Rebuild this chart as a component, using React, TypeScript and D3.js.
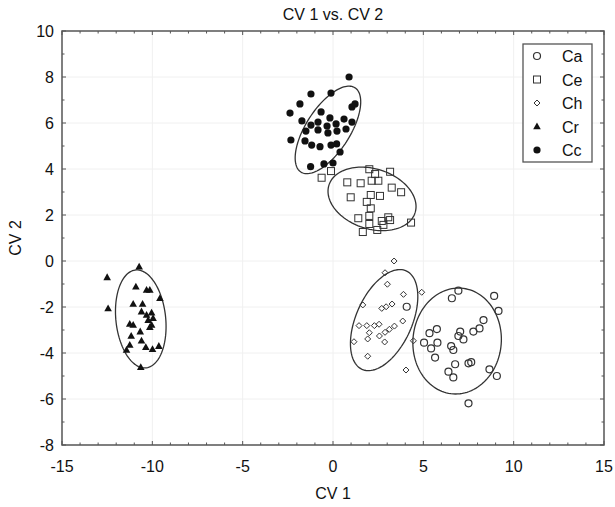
import React, { useEffect, useRef } from "react";
import * as d3 from "d3";

// group scores: [CV 1, CV 2]
const ca = [
  [6.94, -1.29], [6.58, -1.62], [8.92, -1.52], [9.16, -2.17], [8.33, -2.57],
  [8.11, -2.93], [7.77, -3.07], [5.75, -2.96], [5.34, -3.14], [7.04, -3.07],
  [6.94, -3.26], [7.22, -3.41], [5.04, -3.55], [5.78, -3.55], [5.43, -3.8],
  [6.54, -3.7], [6.66, -3.87], [5.65, -4.2], [6.76, -4.49], [7.5, -4.45],
  [6.39, -4.81], [6.66, -5.06], [8.66, -4.71], [9.07, -5.0], [7.5, -6.19],
  [4.08, -1.99], [7.65, -4.4],
];
const ce = [
  [2.01, 3.99], [2.33, 3.78], [3.16, 3.88], [2.14, 3.49], [2.51, 3.49],
  [0.79, 3.42], [1.53, 3.38], [3.25, 3.19], [3.77, 2.99], [0.98, 2.77],
  [2.09, 2.87], [2.6, 2.83], [1.87, 2.57], [2.09, 2.29], [1.4, 1.86],
  [2.01, 1.96], [3.06, 1.9], [2.7, 1.74], [3.16, 1.78], [2.01, 1.61],
  [2.79, 1.57], [1.65, 1.26], [2.45, 1.35], [4.32, 1.67], [-0.63, 3.62],
  [-0.11, 3.91],
];
const ch = [
  [3.38, 0.0], [2.88, -0.51], [3.01, -1.01], [1.65, -1.91], [3.9, -1.45],
  [4.91, -1.36], [2.7, -2.06], [2.94, -1.99], [3.27, -1.87], [1.44, -2.81],
  [1.87, -2.81], [2.29, -2.81], [2.55, -2.75], [2.01, -3.12], [1.92, -3.39],
  [2.57, -3.26], [2.88, -3.1], [3.12, -2.97], [3.4, -2.83], [3.86, -2.61],
  [2.86, -3.52], [1.16, -3.51], [1.92, -4.14], [4.04, -4.74], [4.45, -3.47],
];
const cr = [
  [-10.73, -0.25], [-12.5, -0.71], [-10.91, -1.12], [-10.32, -1.26], [-10.14, -1.26],
  [-9.58, -1.62], [-12.45, -2.06], [-11.06, -1.87], [-10.54, -1.87], [-10.6, -2.2],
  [-10.32, -2.35], [-10.04, -2.25], [-9.96, -2.49], [-10.23, -2.57], [-10.04, -2.78],
  [-10.14, -2.88], [-11.25, -2.74], [-11.06, -2.78], [-10.67, -3.07], [-11.17, -3.26],
  [-10.6, -3.47], [-11.25, -3.65], [-11.43, -3.87], [-10.36, -3.75], [-9.99, -3.84],
  [-9.64, -3.7], [-10.64, -4.62],
];
const cc = [
  [0.89, 8.0], [-1.22, 7.26], [-1.83, 6.83], [-0.11, 7.3], [1.05, 6.7],
  [1.22, 6.83], [-2.38, 6.43], [-0.66, 6.48], [-0.17, 6.22], [-1.72, 6.09],
  [-1.22, 5.91], [-0.83, 6.04], [-0.33, 5.87], [0.17, 5.96], [0.61, 6.17],
  [-1.5, 5.65], [-0.83, 5.7], [-0.28, 5.57], [0.22, 5.65], [0.72, 5.74],
  [1.05, 6.04], [-2.33, 5.26], [-1.55, 5.22], [-1.18, 5.04], [-0.72, 4.97],
  [-0.11, 5.04], [0.2, 5.09], [0.39, 4.74], [-1.24, 4.1], [-0.5, 4.22], [0.0, 4.26],
];

// confidence ellipses: centre, two conjugate half-axes (data units)
const ellipses = [
  { c: [6.87, -3.48], a: [0.22, 2.3], b: [2.44, -0.13] },
  { c: [2.16, 2.7], a: [2.38, -0.61], b: [-0.52, -1.24] },
  { c: [2.83, -2.57], a: [1.22, 2.14], b: [1.41, -0.5] },
  { c: [-10.64, -2.52], a: [-0.17, 2.13], b: [1.39, -0.07] },
  { c: [-0.28, 5.7], a: [1.5, 1.83], b: [1.02, -0.52] },
];

const groups = ["Ca", "Ce", "Ch", "Cr", "Cc"];
const groupData = [ca, ce, ch, cr, cc];
const xTicks = [-15, -10, -5, 0, 5, 10, 15];
const yTicks = [-8, -6, -4, -2, 0, 2, 4, 6, 8, 10];

const W = 615;
const H = 507;
const margin = { top: 31, right: 11, bottom: 62, left: 62 };
const ink = "#333";
const font = "Arial, 'Liberation Sans', sans-serif";

function drawMarker(g, kind, x, y) {
  if (kind === "Ca") {
    g.append("circle").attr("cx", x).attr("cy", y).attr("r", 3.5)
      .attr("fill", "none").attr("stroke", ink).attr("stroke-width", 1.2);
  } else if (kind === "Ce") {
    g.append("rect").attr("x", x - 3.5).attr("y", y - 3.5).attr("width", 7).attr("height", 7)
      .attr("fill", "none").attr("stroke", ink).attr("stroke-width", 1);
  } else if (kind === "Ch") {
    g.append("path").attr("d", `M${x},${y - 3}L${x + 3},${y}L${x},${y + 3}L${x - 3},${y}Z`)
      .attr("fill", "none").attr("stroke", ink).attr("stroke-width", 1);
  } else if (kind === "Cr") {
    g.append("path").attr("d", `M${x},${y - 4}L${x + 3.8},${y + 2.8}L${x - 3.8},${y + 2.8}Z`)
      .attr("fill", "#111");
  } else {
    g.append("circle").attr("cx", x).attr("cy", y).attr("r", 3.6).attr("fill", "#111");
  }
}

export default function App() {
  const svgRef = useRef(null);

  useEffect(() => {
    const svg = d3.select(svgRef.current);
    svg.selectAll("*").remove();

    const x = d3.scaleLinear().domain([-15, 15]).range([margin.left, W - margin.right]);
    const y = d3.scaleLinear().domain([-8, 10]).range([H - margin.bottom, margin.top]);
    const [x0, x1] = x.range();
    const [y1, y0] = y.range();

    // faint grid
    const grid = svg.append("g").attr("stroke", "#f0f0f0").attr("stroke-width", 1);
    xTicks.slice(1, -1).forEach((t) =>
      grid.append("line").attr("x1", x(t)).attr("x2", x(t)).attr("y1", y0).attr("y2", y1));
    yTicks.slice(1, -1).forEach((t) =>
      grid.append("line").attr("x1", x0).attr("x2", x1).attr("y1", y(t)).attr("y2", y(t)));

    // ticks on all four sides, pointing inward
    const ticks = svg.append("g").attr("stroke", "#555").attr("stroke-width", 1);
    d3.range(-15, 16, 1).forEach((t) => {
      const len = t % 5 === 0 ? 4 : 2.5;
      ticks.append("line").attr("x1", x(t)).attr("x2", x(t)).attr("y1", y1).attr("y2", y1 - len);
      ticks.append("line").attr("x1", x(t)).attr("x2", x(t)).attr("y1", y0).attr("y2", y0 + len);
    });
    d3.range(-8, 11, 1).forEach((t) => {
      const len = t % 2 === 0 ? 4 : 2.5;
      ticks.append("line").attr("x1", x0).attr("x2", x0 + len).attr("y1", y(t)).attr("y2", y(t));
      ticks.append("line").attr("x1", x1).attr("x2", x1 - len).attr("y1", y(t)).attr("y2", y(t));
    });

    svg.append("rect").attr("x", x0).attr("y", y0).attr("width", x1 - x0).attr("height", y1 - y0)
      .attr("fill", "none").attr("stroke", "#555").attr("stroke-width", 1.5);

    // tick labels
    const lab = svg.append("g").attr("font-family", font).attr("font-size", 16).attr("fill", "#111");
    xTicks.forEach((t) =>
      lab.append("text").attr("x", x(t)).attr("y", y1 + 27).attr("text-anchor", "middle").text(t));
    yTicks.forEach((t) =>
      lab.append("text").attr("x", x0 - 8).attr("y", y(t) + 5.5).attr("text-anchor", "end").text(t));

    svg.append("text").attr("x", (x0 + x1) / 2).attr("y", 20).attr("text-anchor", "middle")
      .attr("font-family", font).attr("font-size", 16).attr("fill", "#111").text("CV 1 vs. CV 2");
    svg.append("text").attr("x", (x0 + x1) / 2).attr("y", 499).attr("text-anchor", "middle")
      .attr("font-family", font).attr("font-size", 16).attr("fill", "#111").text("CV 1");
    svg.append("text").attr("transform", `translate(21,${(y0 + y1) / 2}) rotate(-90)`)
      .attr("text-anchor", "middle").attr("font-family", font).attr("font-size", 16)
      .attr("fill", "#111").text("CV 2");

    // ellipses
    const line = d3.line().x((d) => x(d[0])).y((d) => y(d[1]));
    const ts = d3.range(0, 2 * Math.PI + 0.01, Math.PI / 60);
    ellipses.forEach((e) => {
      const pts = ts.map((t) => [
        e.c[0] + e.a[0] * Math.cos(t) + e.b[0] * Math.sin(t),
        e.c[1] + e.a[1] * Math.cos(t) + e.b[1] * Math.sin(t),
      ]);
      svg.append("path").attr("d", line(pts)).attr("fill", "none")
        .attr("stroke", ink).attr("stroke-width", 1.3);
    });

    // points
    const pg = svg.append("g");
    groups.forEach((k, i) => groupData[i].forEach((d) => drawMarker(pg, k, x(d[0]), y(d[1]))));

    // legend
    const lg = svg.append("g");
    lg.append("rect").attr("x", 523).attr("y", 44).attr("width", 69).attr("height", 118)
      .attr("fill", "#fff").attr("stroke", "#555").attr("stroke-width", 1.3);
    groups.forEach((k, i) => {
      const cy = 56 + i * 23.5;
      drawMarker(lg, k, 537, cy);
      lg.append("text").attr("x", 562).attr("y", cy + 6).attr("font-family", font)
        .attr("font-size", 16).attr("fill", "#111").text(k);
    });
  }, []);

  return (
    <svg ref={svgRef} width={W} height={H}
      style={{ position: "absolute", left: 0, top: 0, background: "#fff" }} />
  );
}
